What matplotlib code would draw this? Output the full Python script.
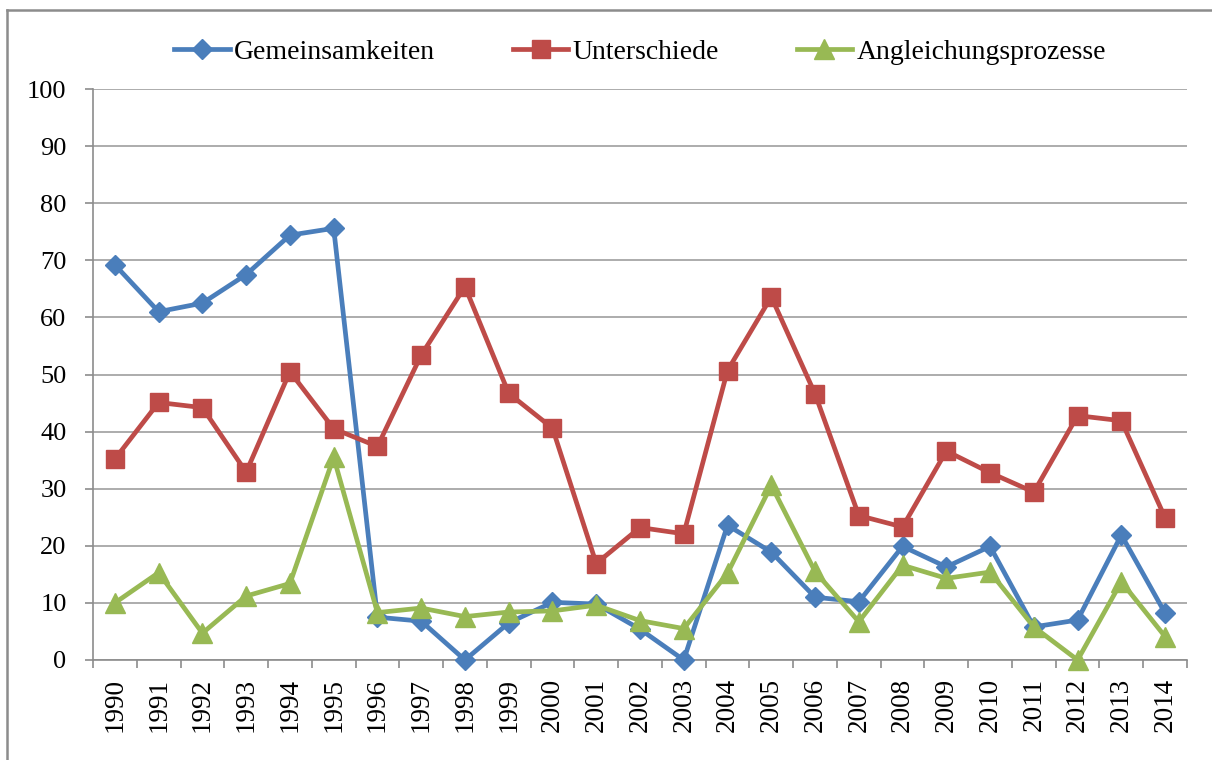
import matplotlib
matplotlib.use("Agg")
import matplotlib.pyplot as plt
from matplotlib.lines import Line2D

years = [str(y) for y in range(1990, 2015)]
gemeinsamkeiten = [69.2, 61.0, 62.5, 67.5, 74.4, 75.6, 7.5, 6.8, 0.0, 6.5, 10.1, 9.8, 5.4, 0.0,
                   23.6, 18.9, 11.0, 10.2, 19.9, 16.3, 19.9, 5.8, 7.0, 21.9, 8.2]
unterschiede = [35.2, 45.1, 44.2, 32.9, 50.5, 40.5, 37.4, 53.4, 65.4, 46.7, 40.6, 16.9, 23.2, 22.1,
                50.7, 63.6, 46.6, 25.3, 23.3, 36.6, 32.8, 29.4, 42.8, 41.9, 24.9]
angleichung = [10.0, 15.3, 4.7, 11.2, 13.4, 35.5, 8.3, 9.1, 7.6, 8.4, 8.6, 9.6, 6.9, 5.5,
               15.2, 30.6, 15.5, 6.7, 16.6, 14.3, 15.4, 5.8, 0.0, 13.7, 4.1]
series_names = ["Gemeinsamkeiten", "Unterschiede", "Angleichungsprozesse"]
y_ticks = list(range(0, 101, 10))

plt.rcParams['font.family'] = ['Liberation Serif', 'DejaVu Serif']

fig = plt.figure(figsize=(12.12, 7.6), dpi=100)
ax = fig.add_axes([93/1212, 1-660/760, (1187-93)/1212, (660-89)/760])

x = list(range(len(years)))
blue, red, green = "#4A7EBB", "#BE4B48", "#98B954"
ax.plot(x, gemeinsamkeiten, color=blue, lw=3.4, marker='D', ms=10.5, mec=blue, mfc=blue,
        label=series_names[0], zorder=3, clip_on=False)
ax.plot(x, unterschiede, color=red, lw=3.4, marker='s', ms=13.5, mec=red, mfc=red,
        label=series_names[1], zorder=3, clip_on=False)
ax.plot(x, angleichung, color=green, lw=3.4, marker='^', ms=14, mec=green, mfc=green,
        label=series_names[2], zorder=3, clip_on=False)

ax.set_xlim(-0.5, len(years) - 0.5)
ax.set_ylim(0, 100)
ax.set_yticks(y_ticks)
ax.set_yticklabels([str(v) for v in y_ticks], fontsize=19)
ax.set_xticks(x)
ax.set_xticklabels(years, rotation=90, fontsize=19.5)
ax.set_xticks([i - 0.5 for i in range(len(years) + 1)], minor=True)
ax.tick_params(axis='x', which='major', length=0, pad=13)
ax.tick_params(axis='x', which='minor', length=6, width=1.2, color="#8C8C8C", direction='out')
ax.tick_params(axis='y', which='major', length=6, width=1.2, color="#8C8C8C", direction='out', pad=13)

ax.grid(axis='y', color="#A6A6A6", lw=1.3)
ax.set_axisbelow(True)
for s in ['top', 'right']:
    ax.spines[s].set_visible(False)
for s in ['left', 'bottom']:
    ax.spines[s].set_color("#8C8C8C")
    ax.spines[s].set_linewidth(1.2)

leg = fig.legend(loc='center', bbox_to_anchor=(640/1212, 1-52/760), ncol=3, frameon=False,
                 fontsize=20, handlelength=2.0, handletextpad=0.15, columnspacing=2.8)

# outer chart frame
fig.add_artist(Line2D([7/1212, 7/1212], [0, 1-10/760], color="#8C8C8C", lw=1.8))
fig.add_artist(Line2D([7/1212, 1], [1-10/760, 1-10/760], color="#8C8C8C", lw=1.8))

fig.savefig("out.png", dpi=100)
